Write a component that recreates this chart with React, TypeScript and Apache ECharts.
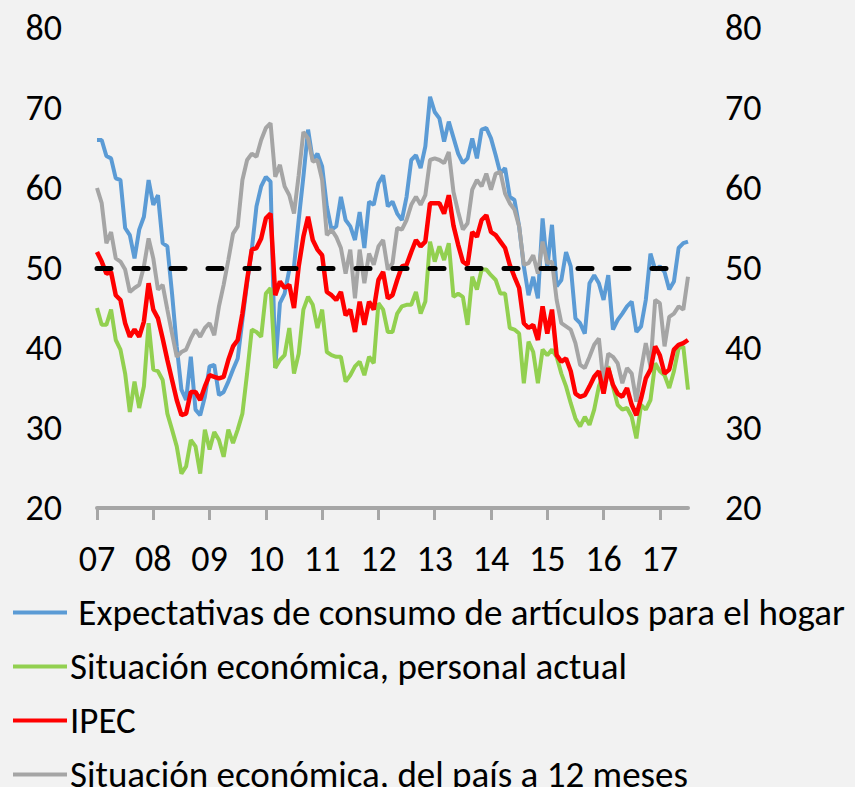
import React, { useEffect, useRef } from "react";
import * as echarts from "echarts";

const years = ["07", "08", "09", "10", "11", "12", "13", "14", "15", "16", "17"];
const monthsInLastYear = 7;
const yTicks = [20, 30, 40, 50, 60, 70, 80];
const threshold = 50;

const seriesNames = [
  " Expectativas de consumo de artículos para el hogar",
  "Situación económica, personal actual",
  "IPEC",
  "Situación económica, del país a 12 meses",
];

const expectativas = [
  66, 66, 64, 63.7, 61.2, 61, 55, 54.1, 51.2, 54.8, 56.4, 61,
  57.9, 59.1, 53.1, 52.7, 46.8, 40.2, 34.8, 33.5, 38.9, 32.3, 31.6, 33.9,
  37.7, 37.9, 34.1, 34.5, 35.8, 37.3, 38.7, 43.5, 48.1, 52.3, 57.7, 60.2,
  61.4, 60.8, 37.5, 45.6, 46.8, 49.8, 50.2, 56, 61.4, 67.3, 63.5, 64.3,
  62.7, 57.7, 54.8, 55.2, 58.9, 56, 55.2, 53.5, 57, 52.5, 58.3, 57.9,
  60.6, 61.6, 57.7, 58.3, 56.8, 56, 58.9, 63.5, 64.1, 62.5, 65.2, 71.4,
  69.5, 68.7, 65.8, 68.3, 66.3, 64.3, 63.1, 63.7, 66.2, 63.7, 67.3, 67.5,
  66.2, 64.1, 61.8, 62.5, 58.9, 58.5, 55.2, 50.2, 46.6, 48.9, 46.2, 56.2,
  50, 55.4, 47.7, 48.5, 52, 50.2, 43.7, 43.1, 41.8, 48.1, 49.1, 48.1,
  46, 49.1, 42.3, 43.5, 44.3, 45.2, 45.8, 42, 42.7, 46, 51.8, 49.8,
  50.2, 49.5, 47.3, 48.3, 52.5, 53.1, 53.3,
];

const personal = [
  45, 42.9, 42.9, 44.8, 41, 39.8, 36.8, 32, 35.8, 32.5, 35.2, 43.1,
  37.3, 37.1, 36, 31.8, 29.8, 27.7, 24.3, 25.2, 28.5, 27.7, 24.3, 29.8,
  27.3, 29.5, 28.5, 26.4, 29.8, 28.1, 29.8, 31.8, 36.8, 42.3, 42, 41.4,
  46.8, 47.5, 37.5, 38.5, 39.1, 42.5, 36.8, 39.3, 44.8, 46.4, 45.4, 42.5,
  44.8, 39.5, 39.1, 38.9, 38.9, 35.8, 36.6, 37.7, 38.3, 36.6, 38.9, 38.1,
  45.6, 44.8, 42, 42, 44.3, 45.2, 45.4, 45.4, 47, 44.3, 45.8, 53.3,
  50.8, 52.7, 51, 53.1, 46.4, 46.8, 46.4, 42.9, 48.9, 47.3, 49.8, 49.8,
  49.1, 48.5, 46.8, 46.8, 42.5, 42.3, 41.8, 35.6, 40.8, 39.5, 35.6, 39.8,
  39.1, 39.8, 38.9, 36.8, 35.2, 33.1, 31.2, 30.2, 31.4, 30.4, 32.3, 35.2,
  36.8, 37.7, 35.2, 32.9, 32.3, 32.5, 31.4, 28.7, 32.9, 32.3, 33.5, 38.1,
  37.1, 36.6, 35, 37.1, 40, 40.2, 34.8,
];

const ipec = [
  52, 50.8, 49.3, 49.5, 46.6, 46, 43.1, 41.4, 42.3, 41.4, 43.3, 48.1,
  44.8, 43.7, 41.2, 38.5, 36, 33.5, 31.6, 31.8, 34.5, 34.5, 33.5, 35.2,
  36.6, 36.4, 36.2, 36.4, 38.5, 40.2, 41, 44.3, 48.5, 52.3, 52.5, 53.7,
  56.2, 56.8, 46.6, 48.3, 47.5, 47.9, 45, 50.2, 53.9, 56.4, 53.5, 52.3,
  51.6, 47, 46.6, 46, 47, 44.1, 44.8, 42, 45.8, 42.9, 45.8, 44.8,
  48.5, 49.5, 46.2, 46.6, 48.5, 50.2, 50.4, 52, 53.5, 52.7, 53.3, 58.1,
  58.1, 58.1, 56.8, 59.1, 55.3, 52.9, 50.8, 50.4, 54.5, 53.9, 56, 56.6,
  54.5, 54.1, 53.3, 52.5, 50.4, 48.9, 47.5, 43.1, 42.5, 42.9, 41, 45.2,
  41.8, 44.8, 39.1, 38.3, 38.7, 37.1, 34.3, 33.9, 34.1, 35.2, 36.4, 37.1,
  34.3, 37.5, 35.4, 34.3, 33.9, 35, 32.9, 31.6, 33.7, 36.2, 37.3, 40.2,
  39.1, 36.8, 37.3, 39.8, 40.4, 40.6, 41,
];

const pais = [
  60, 58.1, 53.1, 54.5, 51.2, 50.8, 49.8, 47, 47.5, 47.9, 50.2, 53.7,
  51.2, 47.3, 47.9, 44.8, 41.8, 38.9, 39.5, 39.8, 41.2, 42.3, 41.4, 42.5,
  43.1, 41.6, 45.2, 47.9, 51, 54.3, 55.2, 61, 63.5, 64.3, 63.9, 66,
  67.5, 68.1, 61.4, 62.9, 60.2, 59.1, 56.8, 61.6, 67, 66.2, 63.3, 63.5,
  61, 54.1, 54.8, 53.9, 52.5, 49.3, 52.3, 46.2, 52.3, 48.1, 51.8, 50.4,
  52.7, 53.5, 49.8, 50.6, 55, 54.8, 56, 57.9, 58.9, 57.9, 59.1, 63.5,
  63.7, 63.5, 63.1, 64.5, 59.5, 57, 54.8, 55.6, 59.8, 61, 60.2, 61.8,
  59.8, 61.8, 62, 59.3, 58.1, 57.3, 55.2, 50.4, 50.6, 51.6, 49.3, 53.3,
  50.6, 50.8, 46, 43.1, 42.7, 42.3, 40.6, 37.9, 37.5, 38.9, 40.4, 41.2,
  35.6, 39.3, 38.9, 38.1, 35.6, 37.5, 36.8, 33.3, 37.3, 40.6, 37.7, 46,
  45.6, 40.2, 43.9, 44.3, 45.2, 44.8, 48.9,
];

const colors = ["#5B9BD5", "#92D050", "#FF0000", "#A5A5A5"];
const FONT = 'Carlito, Lato, sans-serif';

export default function App() {
  const ref = useRef<HTMLDivElement>(null);

  useEffect(() => {
    if (!ref.current) return;
    const chart = echarts.init(ref.current, undefined, { renderer: "svg" });

    const categories: string[] = [];
    years.forEach((y, yi) => {
      const n = yi === years.length - 1 ? monthsInLastYear : 12;
      for (let m = 1; m <= n; m++) categories.push(`${y}-${m}`);
    });

    const yAxisCommon = {
      type: "value" as const,
      min: yTicks[0],
      max: yTicks[yTicks.length - 1],
      interval: 10,
      axisLine: { show: false },
      axisTick: { show: false },
      splitLine: { show: false },
      axisLabel: { color: "#000", fontSize: 36, fontFamily: FONT },
    };

    const dataSets = [expectativas, personal, ipec, pais];

    chart.setOption({
      animation: false,
      backgroundColor: "#F2F2F2",
      textStyle: { fontFamily: FONT },
      grid: { left: 97, right: 167, top: 28, bottom: 279, containLabel: false },
      legend: {
        orient: "vertical",
        left: 8,
        top: 589,
        height: 260,
        itemWidth: 54,
        itemHeight: 4,
        itemGap: 17,
        icon: "rect",
        data: seriesNames,
        textStyle: { color: "#000", fontSize: 37, fontFamily: FONT, padding: [0, 0, 0, -2] },
      },
      xAxis: {
        type: "category",
        data: categories,
        boundaryGap: false,
        axisLine: { lineStyle: { color: "#A6A6A6", width: 4 } },
        axisTick: {
          length: 12,
          lineStyle: { color: "#A6A6A6", width: 3 },
          interval: (i: number) => i % 12 === 0,
        },
        axisLabel: {
          interval: (i: number) => i % 12 === 0,
          formatter: (v: string) => v.split("-")[0],
          color: "#000",
          fontSize: 36,
          fontFamily: FONT,
          margin: 33,
        },
        splitLine: { show: false },
      },
      yAxis: [
        { ...yAxisCommon, position: "left", axisLabel: { ...yAxisCommon.axisLabel, margin: 35 } },
        { ...yAxisCommon, position: "right", axisLabel: { ...yAxisCommon.axisLabel, margin: 37 } },
      ],
      series: seriesNames.map((name, k) => ({
        name,
        type: "line",
        data: dataSets[k],
        symbol: "none",
        z: k === 2 ? 5 : 2 + k * 0.1,
        lineStyle: { color: colors[k], width: k === 2 ? 4.5 : 4 },
        itemStyle: { color: colors[k] },
        markLine:
          k === 0
            ? {
                silent: true,
                symbol: "none",
                label: { show: false },
                lineStyle: { color: "#000", width: 5, type: [14, 23], cap: "round" },
                data: [{ yAxis: threshold }],
                z: 10,
              }
            : undefined,
      })),
    });

    return () => chart.dispose();
  }, []);

  return (
    <div
      ref={ref}
      style={{ position: "fixed", left: 0, top: 0, width: 855, height: 787 }}
    />
  );
}
